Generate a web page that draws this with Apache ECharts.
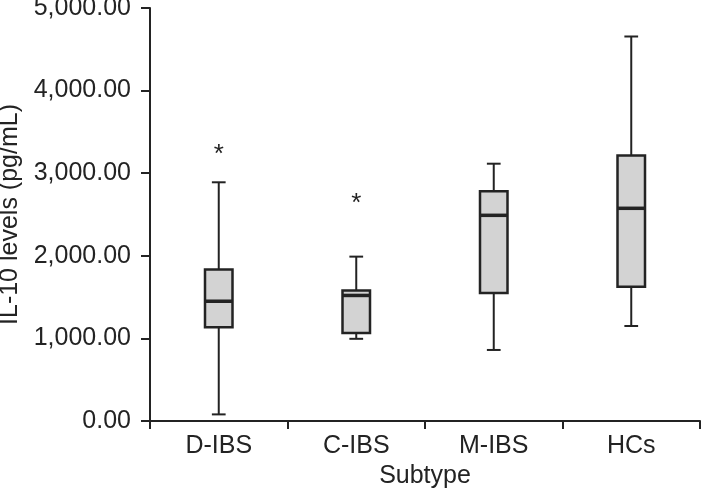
<!DOCTYPE html>
<html>
<head>
<meta charset="utf-8">
<script src="https://cdn.jsdelivr.net/npm/echarts@6/dist/echarts.min.js"></script>
<style>html,body{margin:0;padding:0;background:#fff;}#c{width:701px;height:502px;}</style>
</head>
<body>
<div id="c"></div>
<script>
const categories = ['D-IBS', 'C-IBS', 'M-IBS', 'HCs'];
// [min, Q1, median, Q3, max]
const boxValues = [
  [80, 1135, 1450, 1835, 2890],
  [995, 1065, 1520, 1580, 1990],
  [860, 1550, 2490, 2780, 3115],
  [1150, 1625, 2575, 3215, 4655]
];
// [categoryIndex, value]
const outliers = [
  [0, 3300],
  [1, 2700]
];
const yTicks = [0, 1000, 2000, 3000, 4000, 5000];

const FONT = 'Liberation Sans, Arial, Helvetica, sans-serif';
const INK = '#232323';

function fmt(v) {
  const s = v.toFixed(2);
  const parts = s.split('.');
  parts[0] = parts[0].replace(/\B(?=(\d{3})+(?!\d))/g, ',');
  return parts.join('.');
}

const boxData = boxValues.map((b, i) => [i].concat(b));

const chart = echarts.init(document.getElementById('c'), null, {renderer: 'canvas'});
chart.setOption({
  animation: false,
  backgroundColor: '#fff',
  grid: {left: 150, right: 1, top: 8, bottom: 81, containLabel: false, outerBoundsMode: 'none'},
  xAxis: {
    type: 'category',
    data: categories,
    name: 'Subtype',
    nameLocation: 'middle',
    nameGap: 42,
    nameTextStyle: {fontFamily: FONT, fontSize: 25, color: INK},
    axisLine: {lineStyle: {color: INK, width: 2}},
    axisTick: {show: true, alignWithLabel: false, length: 8, lineStyle: {color: INK, width: 2}},
    axisLabel: {fontFamily: FONT, fontSize: 25, color: INK, margin: 13},
    splitLine: {show: false}
  },
  yAxis: {
    type: 'value',
    min: yTicks[0],
    max: yTicks[yTicks.length - 1],
    interval: 1000,
    name: 'IL-10 levels (pg/mL)',
    nameLocation: 'middle',
    nameGap: 123,
    nameTextStyle: {fontFamily: FONT, fontSize: 25, color: INK},
    axisLine: {show: true, lineStyle: {color: INK, width: 2}},
    axisTick: {show: true, length: 9, lineStyle: {color: INK, width: 2}},
    axisLabel: {fontFamily: FONT, fontSize: 25, color: INK, margin: 19, formatter: fmt},
    splitLine: {show: false}
  },
  series: [
    {
      type: 'custom',
      data: boxData,
      renderItem: function (params, api) {
        const ci = api.value(0);
        const pMin = api.coord([ci, api.value(1)]);
        const pQ1 = api.coord([ci, api.value(2)]);
        const pMed = api.coord([ci, api.value(3)]);
        const pQ3 = api.coord([ci, api.value(4)]);
        const pMax = api.coord([ci, api.value(5)]);
        const bw = api.size([1, 0])[0];
        const boxW = bw * 0.2;
        const capW = bw * 0.1;
        const x = pMed[0];
        const line = {stroke: INK, lineWidth: 2};
        return {
          type: 'group',
          children: [
            {type: 'line', shape: {x1: x, y1: pQ3[1], x2: x, y2: pMax[1]}, style: line},
            {type: 'line', shape: {x1: x, y1: pQ1[1], x2: x, y2: pMin[1]}, style: line},
            {type: 'line', shape: {x1: x - capW / 2, y1: pMax[1], x2: x + capW / 2, y2: pMax[1]}, style: line},
            {type: 'line', shape: {x1: x - capW / 2, y1: pMin[1], x2: x + capW / 2, y2: pMin[1]}, style: line},
            {type: 'rect', shape: {x: x - boxW / 2, y: pQ3[1], width: boxW, height: pQ1[1] - pQ3[1]},
              style: {fill: '#d3d3d3', stroke: INK, lineWidth: 2.5}},
            {type: 'line', shape: {x1: x - boxW / 2, y1: pMed[1], x2: x + boxW / 2, y2: pMed[1]},
              style: {stroke: INK, lineWidth: 3.5}}
          ]
        };
      }
    },
    {
      type: 'custom',
      data: outliers,
      renderItem: function (params, api) {
        const p = api.coord([api.value(0), api.value(1)]);
        return {
          type: 'text',
          x: p[0],
          y: p[1] + 6,
          style: {text: '*', fontFamily: FONT, fontSize: 26, fill: INK, align: 'center', verticalAlign: 'middle'}
        };
      }
    }
  ]
});
</script>
</body>
</html>
